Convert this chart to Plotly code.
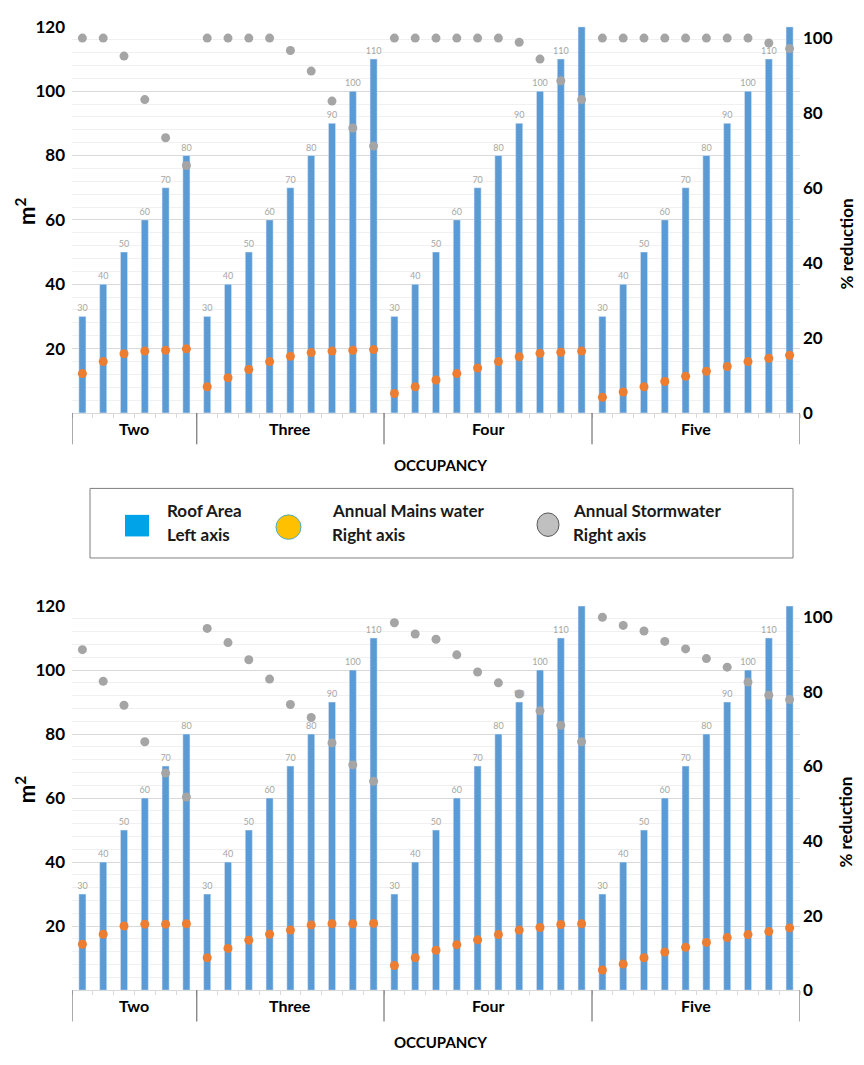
import plotly.graph_objects as go
from plotly.subplots import make_subplots

# occupancy groups and roof areas (m2) in each group
occupancy = ["Two", "Three", "Four", "Five"]
roof_two = [30, 40, 50, 60, 70, 80]
roof_three = [30, 40, 50, 60, 70, 80, 90, 100, 110]
roof_four = [30, 40, 50, 60, 70, 80, 90, 100, 110, 120]
roof_five = [30, 40, 50, 60, 70, 80, 90, 100, 110, 120]

# upper chart: % reduction
top_mains = [10.5, 13.7, 15.8, 16.5, 16.7, 17.1,
             7.0, 9.4, 11.6, 13.7, 15.1, 16.1, 16.5, 16.7, 16.9,
             5.2, 7.0, 8.8, 10.5, 12.0, 13.7, 15.0, 15.9, 16.2, 16.5,
             4.2, 5.6, 7.0, 8.4, 9.8, 11.1, 12.4, 13.7, 14.6, 15.4]
top_storm = [100, 100, 95.2, 83.6, 73.4, 66.0,
             100, 100, 100, 100, 96.7, 91.2, 83.2, 76.0, 71.2,
             100, 100, 100, 100, 100, 100, 98.9, 94.4, 88.6, 83.6,
             100, 100, 100, 100, 100, 100, 100, 100, 98.7, 97.2]

# lower chart: % reduction
bot_mains = [12.3, 15.0, 17.2, 17.7, 17.7, 17.8,
             8.7, 11.2, 13.4, 15.0, 16.1, 17.5, 17.8, 17.8, 17.9,
             6.6, 8.7, 10.7, 12.2, 13.5, 14.9, 16.1, 16.8, 17.6, 17.8,
             5.4, 7.0, 8.7, 10.2, 11.5, 12.8, 14.1, 14.9, 15.7, 16.7]
bot_storm = [91.3, 82.8, 76.4, 66.6, 58.2, 51.8,
             97.0, 93.2, 88.6, 83.4, 76.6, 73.1, 66.3, 60.4, 56.0,
             98.5, 95.5, 94.1, 89.9, 85.3, 82.4, 79.4, 74.9, 71.0, 66.6,
             100, 97.8, 96.3, 93.5, 91.5, 88.9, 86.6, 82.6, 79.1, 77.9]

# the page body keeps its default 8px margin, so the figure is made that much smaller
OFF = 8
W, H = 864 - 2 * OFF, 1065 - 2 * OFF
FONT = "Lato"
BLUE, ORANGE, GREY = "#5B9BD5", "#ED7D31", "#A5A5A5"


def px(x):
    return (x - OFF) / W


def py(y):
    return 1 - (y - OFF) / H


groups = [roof_two, roof_three, roof_four, roof_five]
roof = [v for g in groups for v in g]
xs = list(range(len(roof)))
labels = [str(v) if v < 120 else "" for v in roof]

# group boundaries on the category axis
bounds = [-0.5]
for g in groups:
    bounds.append(bounds[-1] + len(g))

fig = make_subplots(rows=2, cols=1, specs=[[{"secondary_y": True}], [{"secondary_y": True}]])

for row, mains, storm in [(1, top_mains, top_storm), (2, bot_mains, bot_storm)]:
    fig.add_trace(go.Bar(x=xs, y=roof, marker_color=BLUE, text=labels,
                         textposition="outside", constraintext="none",
                         textfont=dict(size=9, color="#A6A6A6", family=FONT),
                         showlegend=False),
                  row=row, col=1, secondary_y=False)
    fig.add_trace(go.Scatter(x=xs, y=storm, mode="markers",
                             marker=dict(size=9, color=GREY), showlegend=False),
                  row=row, col=1, secondary_y=True)
    fig.add_trace(go.Scatter(x=xs, y=mains, mode="markers",
                             marker=dict(size=9, color=ORANGE), showlegend=False),
                  row=row, col=1, secondary_y=True)

fig.update_layout(width=W, height=H, margin=dict(l=0, r=0, t=0, b=0),
                  plot_bgcolor="white", paper_bgcolor="white",
                  bargap=0.66, font=dict(family=FONT, color="black"))

xdom = [px(72), px(800)]
doms = {1: [py(410), py(16)], 2: [py(999), py(607)]}
ax = {1: ("xaxis", "yaxis", "yaxis2"), 2: ("xaxis2", "yaxis3", "yaxis4")}
title_y = {1: (205, 238), 2: (795, 828)}

for row in (1, 2):
    xa, ya, ya2 = ax[row]
    fig.layout[xa].update(domain=xdom, range=[-0.5, len(roof) - 0.5],
                          showticklabels=False, showgrid=False, zeroline=False,
                          showline=True, linecolor="#D9D9D9",
                          tickmode="array", tickvals=[i + 0.5 for i in range(-1, len(roof))],
                          ticks="outside", ticklen=4, tickcolor="#D9D9D9")
    fig.layout[ya].update(domain=doms[row], range=[0, 120],
                          tickvals=[20, 40, 60, 80, 100, 120],
                          tickfont=dict(size=17, weight="bold", family=FONT),
                          showgrid=True, gridcolor="#D9D9D9", zeroline=False,
                          minor=dict(tickmode="linear", tick0=0, dtick=4,
                                     showgrid=True, gridcolor="#F0F0F0"),
                          ticklabelstandoff=6)
    fig.layout[ya2].update(range=[0, 103], tickvals=[0, 20, 40, 60, 80, 100],
                           tickfont=dict(size=17, weight="bold", family=FONT),
                           showgrid=False, zeroline=False, ticklabelstandoff=2)

    # axis titles
    ly, ry = title_y[row]
    fig.add_annotation(x=px(25), xref="paper", y=py(ly), yref="paper",
                       text="m<sup>2</sup>", showarrow=False, textangle=-90,
                       xanchor="center", yanchor="middle",
                       font=dict(size=22, weight="bold", family=FONT))
    fig.add_annotation(x=px(846), xref="paper", y=py(ry), yref="paper",
                       text="% reduction", showarrow=False, textangle=-90,
                       xanchor="center", yanchor="middle",
                       font=dict(size=17, weight="bold", family=FONT))

    base = doms[row][0]
    xref = "x" if row == 1 else "x2"
    for b in bounds:
        fig.add_shape(type="line", xref=xref, yref="paper", x0=b, x1=b,
                      y0=base, y1=base - 32 / H, line=dict(color="#595959", width=1))
    for name, lo, hi in zip(occupancy, bounds[:-1], bounds[1:]):
        fig.add_annotation(x=(lo + hi) / 2, xref=xref, y=base - 16 / H, yref="paper",
                           text=name, showarrow=False, yanchor="middle",
                           font=dict(size=16, weight="bold", family=FONT))
    fig.add_annotation(x=px(440), xref="paper", y=base - 53 / H, yref="paper",
                       text="OCCUPANCY", showarrow=False, yanchor="middle",
                       font=dict(size=15, weight="bold", family=FONT))

# legend box drawn between the two charts
fig.add_shape(type="rect", xref="paper", yref="paper", x0=px(90), x1=px(793),
              y0=py(558), y1=py(487), line=dict(color="#7F7F7F", width=1))
fig.add_shape(type="rect", xref="paper", yref="paper", x0=px(125), x1=px(149),
              y0=py(536), y1=py(514), fillcolor="#00A2E8", line=dict(width=0))
fig.add_shape(type="circle", xref="paper", yref="paper", x0=px(276), x1=px(301),
              y0=py(539), y1=py(514), fillcolor="#FFC000",
              line=dict(color="#4BACC6", width=1))
fig.add_shape(type="circle", xref="paper", yref="paper", x0=px(537), x1=px(559),
              y0=py(536), y1=py(512), fillcolor="#C0C0C0",
              line=dict(color="#595959", width=1))
legend_text = [(165, "Roof Area", "Left axis"),
               (330, "Annual Mains water", "Right axis"),
               (571, "Annual Stormwater", "Right axis")]
for lx, l1, l2 in legend_text:
    for ly, t in [(510, l1), (534, l2)]:
        fig.add_annotation(x=px(lx), xref="paper", y=py(ly), yref="paper", text=t,
                           showarrow=False, xanchor="left", yanchor="middle",
                           font=dict(size=17, weight="bold", family=FONT, color="#1a1a1a"))

fig.write_html("out.html")
